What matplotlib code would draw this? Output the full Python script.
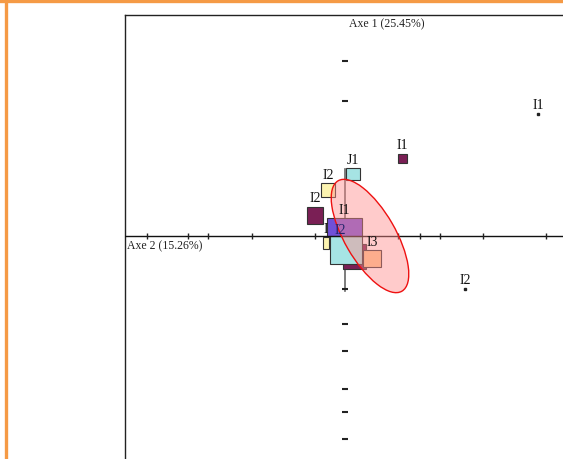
import matplotlib
matplotlib.use("Agg")
import matplotlib.pyplot as plt
from matplotlib.patches import Rectangle, Ellipse
from matplotlib.lines import Line2D

# --- factorial plane: axis names and inertia shares
axis_h_label = "Axe 2 (15.26%)"
axis_v_label = "Axe 1 (25.45%)"

# --- individual points (coordinates on Axe 2 / Axe 1)
point_names = ["I1", "I2"]
point_x = [3.86, 2.40]
point_y = [2.44, -1.06]

# --- modality squares: centre, width, height, fill colour, label
sq_names = ["I1", "J1", "I2", "I2", "I1", "", "", "I3", "I"]
sq_x = [1.14, 0.16, -0.34, -0.60, -0.01, 0.02, 0.18, 0.54, -0.38]
sq_y = [1.56, 1.24, 0.92, 0.42, 0.17, -0.28, -0.40, -0.45, -0.14]
sq_w = [0.18, 0.28, 0.28, 0.32, 0.70, 0.64, 0.46, 0.36, 0.12]
sq_h = [0.18, 0.24, 0.28, 0.34, 0.38, 0.56, 0.50, 0.34, 0.24]
sq_colors = ["#7a1f55", "#a6e4e4", "#fbf3b0", "#7a1f55", "#7050d8",
             "#a6e4e4", "#7a1f55", "#fdc98f", "#fbf3b0"]
sq_order = [1, 1, 1, 1, 2, 3, 2, 3, 3]

# --- confidence ellipse (centre, axes lengths, orientation in degrees)
ell_center = (0.50, 0.0)
ell_width = 2.55
ell_height = 1.02
ell_angle = -60

# --- graduation marks on both axes
ticks_h = [-3.96, -3.14, -2.74, -1.86, -0.60, 1.06, 1.50, 1.90, 2.76, 4.02]
ticks_v = [3.5, 2.7, -1.06, -1.76, -2.3, -3.06, -3.52, -4.06]

W, H = 563, 460
fig = plt.figure(figsize=(W / 100, H / 100), dpi=100)
fig.patch.set_facecolor("white")

# plot region: left frame at x=125 px, top frame at y=16 px; 50 px per unit
left_px, top_px = 125, 16
ox, oy = 345, 237
unit = 50.0
ax = fig.add_axes([left_px / W, 0, 1 - left_px / W, 1 - top_px / H])
ax.set_xlim((left_px - ox) / unit, (W - ox) / unit)
ax.set_ylim((oy - H) / unit, (oy - top_px) / unit)
ax.set_xticks([])
ax.set_yticks([])
for side in ("right", "bottom"):
    ax.spines[side].set_visible(False)
for side in ("left", "top"):
    ax.spines[side].set_color("#222222")
    ax.spines[side].set_linewidth(1.0)

serif = ["Liberation Serif", "DejaVu Serif"]

# horizontal axis
ax.axhline(0, color="#111111", lw=1.0, zorder=4)
# vertical axis segment
ax.plot([0, 0], [1.34, -1.1], color="#666666", lw=1.2, zorder=0.5)

# graduation marks
ax.plot(ticks_h, [0] * len(ticks_h), linestyle="none", marker="|",
        markersize=5, color="#222222", mew=1.0, zorder=4)
ax.plot([0] * len(ticks_v), ticks_v, linestyle="none", marker="_",
        markersize=4, color="#222222", mew=1.5, zorder=4)

# squares
for name, x, y, w, h, c, z in zip(sq_names, sq_x, sq_y, sq_w, sq_h,
                                   sq_colors, sq_order):
    ax.add_patch(Rectangle((x - w / 2, y - h / 2), w, h, facecolor=c,
                           edgecolor="#333333", lw=0.8, zorder=z))
    if name:
        ax.text(x, y + h / 2 + 0.04, name, ha="center", va="bottom",
                fontsize=10, family=serif, color="#111111", zorder=6)

# overlapping labels on the central square
ax.text(-0.10, 0.12, "I2", ha="center", va="center", fontsize=10,
        family=serif, color="#22246a", zorder=6)

# ellipse
ax.add_patch(Ellipse(ell_center, ell_width, ell_height, angle=ell_angle,
                     facecolor="#ff8c8c", alpha=0.45, edgecolor="none",
                     zorder=5))
ax.add_patch(Ellipse(ell_center, ell_width, ell_height, angle=ell_angle,
                     facecolor="none", edgecolor="#ee1111", lw=1.0,
                     zorder=5.5))

# individual points
ax.plot(point_x, point_y, linestyle="none", marker="s", markersize=1.6,
        color="#222222", zorder=6)
for name, x, y in zip(point_names, point_x, point_y):
    ax.text(x, y + 0.06, name, ha="center", va="bottom", fontsize=10,
            family=serif, color="#111111", zorder=6)

# axis titles
ax.text(0.08, (oy - 24) / unit, axis_v_label, ha="left", va="center",
        fontsize=8.5, family=serif, color="#222222")
ax.text((127 - ox) / unit, -0.18, axis_h_label, ha="left", va="center",
        fontsize=8.5, family=serif, color="#222222")

# orange frame along the left and top edges
orange = "#f59a45"
fig.add_artist(Line2D([5.5 / W, 5.5 / W], [0, 1], color=orange, lw=2.4,
                      transform=fig.transFigure))
fig.add_artist(Line2D([0, 1], [1 - 1.5 / H, 1 - 1.5 / H], color=orange,
                      lw=2.4, transform=fig.transFigure))

fig.savefig("out.png", dpi=100)
